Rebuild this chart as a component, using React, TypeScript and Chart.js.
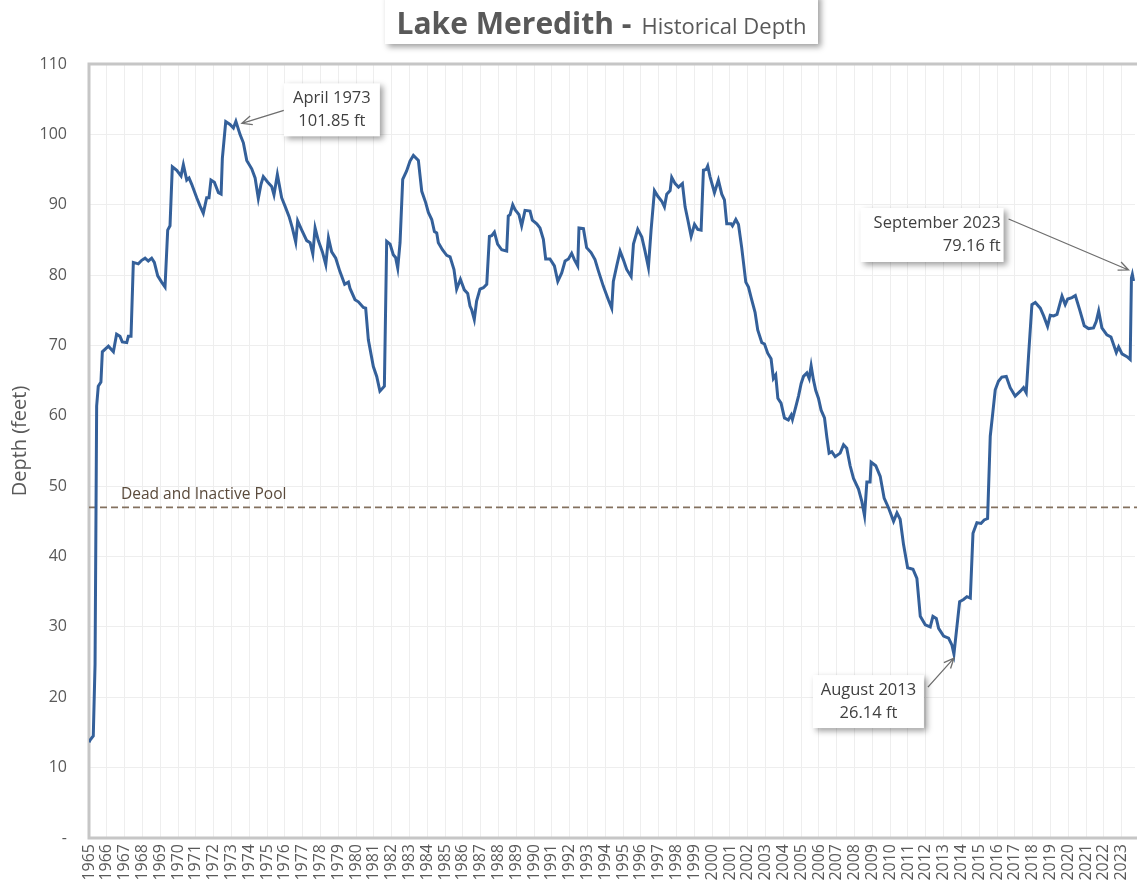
import React, { useEffect, useRef } from "react";
import { Chart, registerables } from "chart.js";

Chart.register(...registerables);

// Decimal year of each reading
const decimalYears: number[] = [
  1965.0, 1965.06, 1965.24, 1965.34, 1965.43, 1965.52, 1965.67, 1965.75, 1966.09, 1966.37,
  1966.55, 1966.74, 1966.87, 1967.12, 1967.21, 1967.36, 1967.49, 1967.77, 1967.96, 1968.15,
  1968.33, 1968.52, 1968.67, 1968.86, 1969.08, 1969.27, 1969.42, 1969.55, 1969.68, 1969.93,
  1970.17, 1970.3, 1970.49, 1970.62, 1970.77, 1971.05, 1971.24, 1971.42, 1971.61, 1971.74,
  1971.85, 1972.04, 1972.27, 1972.42, 1972.49, 1972.68, 1972.92, 1973.11, 1973.25, 1973.48,
  1973.67, 1973.86, 1974.14, 1974.33, 1974.51, 1974.66, 1974.79, 1975.04, 1975.26, 1975.39,
  1975.58, 1975.82, 1976.01, 1976.24, 1976.42, 1976.61, 1976.72, 1976.95, 1977.23, 1977.42,
  1977.57, 1977.7, 1977.88, 1978.11, 1978.3, 1978.45, 1978.63, 1978.86, 1979.08, 1979.36,
  1979.57, 1979.66, 1979.94, 1980.13, 1980.41, 1980.54, 1980.69, 1980.97, 1981.16, 1981.34,
  1981.59, 1981.72, 1981.91, 1982.09, 1982.22, 1982.34, 1982.47, 1982.62, 1982.84, 1983.03,
  1983.22, 1983.5, 1983.69, 1983.91, 1984.06, 1984.25, 1984.4, 1984.53, 1984.62, 1984.85,
  1985.09, 1985.28, 1985.5, 1985.65, 1985.86, 1986.08, 1986.27, 1986.4, 1986.49, 1986.64,
  1986.77, 1986.96, 1987.15, 1987.34, 1987.49, 1987.62, 1987.77, 1987.95, 1988.18, 1988.46,
  1988.55, 1988.65, 1988.8, 1988.93, 1989.15, 1989.3, 1989.49, 1989.77, 1989.9, 1990.15,
  1990.33, 1990.52, 1990.65, 1990.89, 1991.14, 1991.33, 1991.55, 1991.74, 1991.93, 1992.11,
  1992.26, 1992.45, 1992.52, 1992.77, 1992.95, 1993.2, 1993.42, 1993.61, 1993.89, 1994.17,
  1994.36, 1994.45, 1994.64, 1994.83, 1995.01, 1995.2, 1995.45, 1995.58, 1995.82, 1996.05,
  1996.23, 1996.42, 1996.57, 1996.76, 1996.95, 1997.17, 1997.32, 1997.45, 1997.64, 1997.73,
  1997.92, 1998.11, 1998.33, 1998.48, 1998.63, 1998.82, 1999.01, 1999.19, 1999.38, 1999.51,
  1999.66, 1999.75, 1999.88, 2000.13, 2000.35, 2000.54, 2000.69, 2000.82, 2001.06, 2001.14,
  2001.33, 2001.48, 2001.66, 2001.89, 2002.04, 2002.19, 2002.41, 2002.56, 2002.79, 2002.94,
  2003.12, 2003.31, 2003.44, 2003.57, 2003.69, 2003.87, 2004.06, 2004.28, 2004.44, 2004.51,
  2004.7, 2004.85, 2005.0, 2005.13, 2005.32, 2005.45, 2005.56, 2005.69, 2005.82, 2005.97,
  2006.12, 2006.31, 2006.44, 2006.57, 2006.72, 2006.91, 2007.19, 2007.38, 2007.56, 2007.75,
  2007.94, 2008.22, 2008.41, 2008.56, 2008.69, 2008.87, 2008.93, 2009.19, 2009.44, 2009.66,
  2009.91, 2010.19, 2010.38, 2010.56, 2010.75, 2010.98, 2011.28, 2011.5, 2011.69, 2011.97,
  2012.25, 2012.4, 2012.59, 2012.72, 2013.0, 2013.28, 2013.47, 2013.58, 2013.9, 2014.12,
  2014.31, 2014.5, 2014.65, 2014.87, 2015.1, 2015.28, 2015.47, 2015.62, 2015.77, 2015.9,
  2016.08, 2016.27, 2016.52, 2016.74, 2017.02, 2017.31, 2017.49, 2017.64, 2017.77, 2017.96,
  2018.15, 2018.43, 2018.62, 2018.84, 2018.99, 2019.18, 2019.37, 2019.65, 2019.83, 2019.97,
  2020.21, 2020.4, 2020.64, 2020.9, 2021.14, 2021.42, 2021.57, 2021.71, 2021.89, 2022.17,
  2022.4, 2022.55, 2022.7, 2022.83, 2023.02, 2023.3, 2023.48, 2023.55, 2023.6, 2023.67,
];

// Depth in feet for each reading
const depthFeet: number[] = [
  13.6, 13.9, 14.5, 24.7, 61.4, 64.2, 64.8, 69.1, 69.9, 69.1,
  71.6, 71.3, 70.5, 70.4, 71.3, 71.3, 81.8, 81.6, 82.1, 82.4,
  82.0, 82.4, 81.8, 79.9, 79.0, 78.3, 86.4, 87.0, 95.4, 94.9,
  94.1, 95.7, 93.5, 93.8, 92.9, 91.0, 89.8, 88.8, 91.0, 91.0,
  93.5, 93.2, 91.7, 91.5, 96.6, 101.8, 101.4, 100.9, 101.85, 100.0,
  98.8, 96.3, 95.1, 93.8, 90.9, 92.9, 94.0, 93.2, 92.6, 91.4,
  94.3, 91.0, 89.8, 88.3, 86.7, 84.7, 87.7, 86.4, 84.9, 84.6,
  83.0, 86.7, 84.9, 83.3, 81.5, 85.3, 83.3, 82.4, 80.6, 78.7,
  79.0, 78.1, 76.5, 76.2, 75.4, 75.3, 70.8, 67.0, 65.6, 63.5,
  64.2, 84.8, 84.4, 82.9, 82.5, 81.0, 84.6, 93.6, 94.8, 96.2,
  97.0, 96.3, 91.9, 90.3, 88.9, 87.9, 86.2, 86.0, 84.6, 83.6,
  82.8, 82.6, 80.8, 78.0, 79.4, 77.9, 77.4, 75.6, 75.1, 73.7,
  76.3, 78.0, 78.2, 78.7, 85.5, 85.6, 86.1, 84.4, 83.6, 83.4,
  88.4, 88.6, 90.0, 89.3, 88.6, 87.0, 89.2, 89.1, 87.8, 87.3,
  86.7, 85.1, 82.3, 82.3, 81.3, 79.1, 80.3, 82.0, 82.3, 83.1,
  82.2, 81.3, 86.7, 86.6, 83.9, 83.2, 82.2, 80.6, 78.4, 76.5,
  75.3, 79.1, 81.3, 83.4, 82.2, 80.8, 79.8, 84.4, 86.5, 85.4,
  83.4, 81.1, 86.4, 92.0, 91.2, 90.5, 89.7, 91.5, 92.0, 93.9,
  93.0, 92.5, 93.0, 89.7, 87.9, 85.5, 87.2, 86.5, 86.4, 94.9,
  95.0, 95.5, 94.0, 91.7, 93.5, 91.5, 90.7, 87.3, 87.3, 87.0,
  87.9, 87.2, 83.9, 79.0, 78.3, 76.8, 74.7, 72.2, 70.4, 70.2,
  68.9, 68.1, 65.3, 65.8, 62.5, 61.8, 59.7, 59.4, 60.1, 59.5,
  61.3, 62.8, 64.6, 65.6, 66.1, 65.3, 67.1, 65.1, 63.6, 62.5,
  60.8, 59.7, 57.0, 54.7, 54.9, 54.2, 54.7, 55.9, 55.4, 52.9,
  51.1, 49.6, 47.8, 45.8, 50.6, 50.6, 53.4, 52.9, 51.4, 48.3,
  46.9, 45.0, 46.2, 45.3, 41.7, 38.4, 38.2, 36.9, 31.5, 30.3,
  30.0, 31.5, 31.2, 29.8, 28.7, 28.4, 27.4, 26.14, 33.6, 33.9,
  34.3, 34.1, 43.3, 44.8, 44.7, 45.2, 45.4, 57.1, 60.6, 63.7,
  64.9, 65.5, 65.6, 64.0, 62.8, 63.5, 64.0, 63.3, 68.5, 75.8,
  76.1, 75.3, 74.2, 72.7, 74.3, 74.2, 74.4, 77.0, 75.8, 76.6,
  76.8, 77.1, 75.1, 72.8, 72.4, 72.5, 73.4, 74.9, 72.5, 71.5,
  71.2, 70.1, 69.0, 69.8, 68.8, 68.4, 68.0, 79.6, 80.1, 79.16,
];

const deadPoolLevel = 47;
const deadPoolLabel = "Dead and Inactive Pool";

const calloutYears: number[] = [1973.25, 2013.58, 2023.67];
const calloutDepths: number[] = [101.85, 26.14, 79.16];
const calloutTitles: string[] = ["April 1973", "August 2013", "September 2023"];

const titleMain = "Lake Meredith -";
const titleSub = "Historical Depth";
const yAxisTitle = "Depth (feet)";

const FONT = "'Open Sans', 'Noto Sans', sans-serif";

// pixel layout of each callout relative to the arrow tip
const calloutLayout = [
  { tipDx: 6, tipDy: 2, boxDx: 42, boxDy: -40, w: 96, h: 53, tailDx: 42, tailDy: -13, align: "center" },
  { tipDx: 0, tipDy: 4, boxDx: -141, boxDy: 17, w: 111, h: 53, tailDx: -26, tailDy: 29, align: "center" },
  { tipDx: -5, tipDy: -11, boxDx: -268, boxDy: -62, w: 143, h: 54, tailDx: -120, tailDy: -51, align: "right" },
];

function drawArrow(ctx: CanvasRenderingContext2D, x1: number, y1: number, x2: number, y2: number) {
  ctx.save();
  ctx.strokeStyle = "#6e6e6e";
  ctx.lineWidth = 1.3;
  ctx.beginPath();
  ctx.moveTo(x1, y1);
  ctx.lineTo(x2, y2);
  const a = Math.atan2(y2 - y1, x2 - x1);
  const L = 11;
  const s = 0.42;
  ctx.moveTo(x2 - L * Math.cos(a - s), y2 - L * Math.sin(a - s));
  ctx.lineTo(x2, y2);
  ctx.lineTo(x2 - L * Math.cos(a + s), y2 - L * Math.sin(a + s));
  ctx.stroke();
  ctx.restore();
}

function shadowBox(ctx: CanvasRenderingContext2D, x: number, y: number, w: number, h: number) {
  ctx.save();
  ctx.shadowColor = "rgba(0,0,0,0.38)";
  ctx.shadowBlur = 6;
  ctx.shadowOffsetX = 3;
  ctx.shadowOffsetY = 3;
  ctx.fillStyle = "#ffffff";
  ctx.fillRect(x, y, w, h);
  ctx.restore();
}

const decorPlugin = {
  id: "decor",
  beforeDatasetsDraw(chart: any) {
    const { ctx, chartArea, scales } = chart;
    const { left, right, top, bottom } = chartArea;
    ctx.save();
    // frame
    ctx.strokeStyle = "#c6c6c6";
    ctx.lineWidth = 3;
    ctx.beginPath();
    ctx.moveTo(right + 5, top);
    ctx.lineTo(left, top);
    ctx.lineTo(left, bottom);
    ctx.lineTo(right + 5, bottom);
    ctx.stroke();
    // dead pool line
    const yp = scales.y.getPixelForValue(deadPoolLevel);
    ctx.strokeStyle = "#83715f";
    ctx.lineWidth = 1.8;
    ctx.setLineDash([7, 4]);
    ctx.beginPath();
    ctx.moveTo(left, yp);
    ctx.lineTo(right + 5, yp);
    ctx.stroke();
    ctx.setLineDash([]);
    ctx.fillStyle = "#5a4a3b";
    ctx.font = `15.5px ${FONT}`;
    ctx.textAlign = "left";
    ctx.textBaseline = "alphabetic";
    ctx.fillText(deadPoolLabel, left + 32, yp - 8);
    ctx.restore();
  },
  afterDraw(chart: any) {
    const { ctx, scales } = chart;
    ctx.save();
    // title box
    shadowBox(ctx, 385, -6, 433, 50);
    ctx.fillStyle = "#595959";
    ctx.textBaseline = "alphabetic";
    ctx.textAlign = "left";
    ctx.font = `bold 30px ${FONT}`;
    const w1 = ctx.measureText(titleMain).width;
    ctx.font = `22px ${FONT}`;
    const w2 = ctx.measureText(titleSub).width;
    const gap = 10;
    const total = w1 + gap + w2;
    const startX = 385 + (433 - total) / 2;
    ctx.font = `bold 30px ${FONT}`;
    ctx.fillText(titleMain, startX, 34);
    ctx.font = `22px ${FONT}`;
    ctx.fillText(titleSub, startX + w1 + gap, 34);

    // y axis title
    ctx.save();
    ctx.translate(20, 441);
    ctx.rotate(-Math.PI / 2);
    ctx.font = `20px ${FONT}`;
    ctx.textAlign = "center";
    ctx.textBaseline = "middle";
    ctx.fillStyle = "#595959";
    ctx.fillText(yAxisTitle, 0, 0);
    ctx.restore();

    // callouts
    for (let i = 0; i < calloutYears.length; i++) {
      const L = calloutLayout[i];
      const px = scales.x.getPixelForValue(calloutYears[i]);
      const py = scales.y.getPixelForValue(calloutDepths[i]);
      const tx = px + L.tipDx;
      const ty = py + L.tipDy;
      const bx = tx + L.boxDx;
      const by = ty + L.boxDy;
      drawArrow(ctx, tx + L.tailDx, ty + L.tailDy, tx, ty);
      shadowBox(ctx, bx, by, L.w, L.h);
      ctx.fillStyle = "#404040";
      ctx.font = `16.5px ${FONT}`;
      ctx.textBaseline = "middle";
      const lines = [calloutTitles[i], `${calloutDepths[i].toFixed(2)} ft`];
      let lx: number;
      if (L.align === "right") {
        ctx.textAlign = "right";
        lx = bx + L.w - 3;
      } else {
        ctx.textAlign = "center";
        lx = bx + L.w / 2;
      }
      ctx.fillText(lines[0], lx, by + 15);
      ctx.fillText(lines[1], lx, by + 38);
    }
    ctx.restore();
  },
};

export default function App() {
  const canvasRef = useRef<HTMLCanvasElement | null>(null);

  useEffect(() => {
    document.body.style.margin = "0";
    const canvas = canvasRef.current;
    if (!canvas) return;
    const points = decimalYears.map((x, i) => ({ x, y: depthFeet[i] }));
    const chart = new Chart(canvas, {
      type: "line",
      data: {
        datasets: [
          {
            label: "Depth",
            data: points,
            borderColor: "#34609a",
            borderWidth: 3,
            pointRadius: 0,
            tension: 0,
            fill: false,
          },
        ],
      },
      options: {
        animation: false,
        responsive: false,
        devicePixelRatio: 1,
        layout: { padding: { top: 64, right: 2, left: 0, bottom: 0 } },
        plugins: {
          legend: { display: false },
          title: { display: false },
          tooltip: { enabled: false },
        },
        scales: {
          x: {
            type: "linear",
            min: 1965,
            max: 2023.75,
            afterFit: (scale: any) => {
              scale.height = 52;
              scale.paddingLeft = 0;
              scale.paddingRight = 0;
            },
            ticks: {
              stepSize: 1,
              autoSkip: false,
              includeBounds: false,
              maxRotation: 90,
              minRotation: 90,
              padding: 6,
              color: "#595959",
              font: { size: 16, family: FONT },
              callback: (v: any) => (Number.isInteger(v) ? String(v) : ""),
            },
            grid: { color: "#eeeeee", lineWidth: 1, drawTicks: false },
            border: { display: false },
          },
          y: {
            min: 0,
            max: 110,
            afterFit: (scale: any) => {
              scale.width = 89;
              scale.paddingTop = 0;
              scale.paddingBottom = 0;
            },
            ticks: {
              stepSize: 10,
              padding: 22,
              color: "#595959",
              font: { size: 16, family: FONT },
              callback: (v: any) => (v === 0 ? "-" : String(v)),
            },
            grid: { color: "#eeeeee", lineWidth: 1, drawTicks: false },
            border: { display: false },
          },
        },
      },
      plugins: [decorPlugin],
    });
    return () => chart.destroy();
  }, []);

  return (
    <div style={{ width: 1137, height: 890, background: "#ffffff" }}>
      <canvas ref={canvasRef} width={1137} height={890} style={{ display: "block" }} />
    </div>
  );
}
